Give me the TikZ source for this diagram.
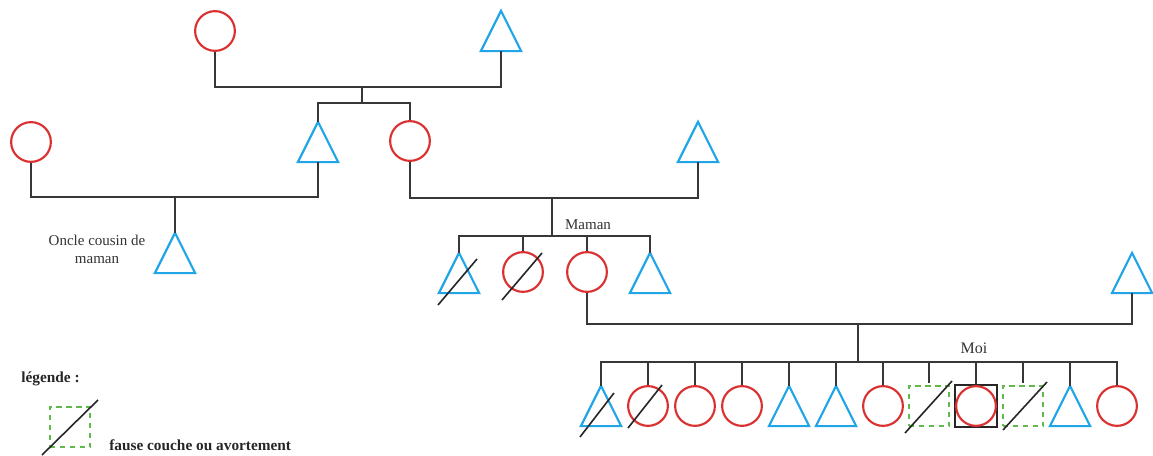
\documentclass[tikz,border=0pt]{standalone}
\usepackage{fontspec}
\setmainfont{Liberation Serif}
\definecolor{fred}{RGB}{218,48,48}
\definecolor{mblue}{RGB}{32,166,230}
\definecolor{dgreen}{RGB}{95,185,75}
\definecolor{lgray}{RGB}{55,55,55}
\begin{document}
\begin{tikzpicture}[x=0.75pt,y=-0.75pt,
  link/.style={draw=lgray, line width=1.3pt},
  slash/.style={draw=black!85, line width=1.2pt},
  fem/.style={circle, draw=fred, line width=1.6pt, minimum size=29.8pt, inner sep=0pt},
  masc/.style={rectangle, minimum width=29.8pt, minimum height=29.8pt, inner sep=0pt,
    append after command={\pgfextra{\draw[draw=mblue, line width=1.6pt, line join=miter]
      (\tikzlastnode.north) -- (\tikzlastnode.south east) -- (\tikzlastnode.south west) -- cycle;}}},
  lost/.style={rectangle, draw=dgreen, dash pattern=on 4pt off 3.5pt, line width=1.5pt,
    minimum size=30.5pt, inner sep=0pt},
  selfbox/.style={rectangle, draw=black!85, line width=1.3pt, minimum size=31.5pt, inner sep=0pt},
  lbl/.style={font=\fontsize{11.25pt}{13.5pt}\selectfont, text=black!80, inner sep=0pt},
  leg/.style={font=\bfseries\fontsize{11.5pt}{13.5pt}\selectfont, text=black!85, inner sep=0pt}
]
\useasboundingbox[fill=white] (0,0) rectangle (1153,456);

% generation 1
\node[fem]  (g1w) at (215,31) {};
\node[masc] (g1h) at (501,31) {};
\coordinate (m1) at (362,87);
\coordinate (c1) at (362,103);

% generation 2
\node[fem]  (lw)  at (31,142) {};
\node[masc] (g2h) at (318,142) {};
\node[fem]  (g2w) at (410,141) {};
\node[masc] (rh)  at (698,142) {};
\coordinate (m2) at (175,197);
\coordinate (m3) at (552,198);
\coordinate (c3) at (552,236);

\node[masc] (oncle) at (175,253) {};
\node[lbl, align=center] (oncletxt) at (97,249) {Oncle cousin de\\maman};

% generation 3
\node[masc] (k1) at (459,273) {};
\node[fem]  (k2) at (523,272) {};
\node[fem]  (k3) at (587,272) {};
\node[masc] (k4) at (650,273) {};
\node[lbl] (maman) at (588,225) {Maman};
\node[masc] (dad) at (1132,273) {};
\coordinate (m4) at (858,324);
\coordinate (c4) at (858,362);

% generation 4
\node[masc] (d1)  at (601,406) {};
\node[fem]  (d2)  at (648,406) {};
\node[fem]  (d3)  at (695,406) {};
\node[fem]  (d4)  at (742,406) {};
\node[masc] (d5)  at (789,406) {};
\node[masc] (d6)  at (836,406) {};
\node[fem]  (d7)  at (883,406) {};
\node[lost] (d8)  at (929,406) {};
\node[selfbox] (d9box) at (976,406) {};
\node[fem]  (d9)  at (976,406) {};
\node[lost] (d10) at (1023,406) {};
\node[masc] (d11) at (1070,406) {};
\node[fem]  (d12) at (1117,406) {};
\node[lbl, font=\fontsize{12pt}{14pt}\selectfont] (moi) at (974,348) {Moi};

% connectors
\draw[link] (g1w.south) |- (m1) -| (g1h.south);
\draw[link] (m1) -- (c1);
\draw[link] (g2h.north) |- (c1) -| (g2w.north);

\draw[link] (lw.south) |- (m2) -| (g2h.south);
\draw[link] (m2) -- (oncle.north);

\draw[link] (g2w.south) |- (m3) -| (rh.south);
\draw[link] (m3) -- (c3);
\draw[link] (k1.north) |- (c3) -| (k4.north);
\draw[link] (k2.north) -- (k2.north |- c3);
\draw[link] (k3.north) -- (k3.north |- c3);

\draw[link] (k3.south) |- (m4) -| (dad.south);
\draw[link] (m4) -- (c4);
\draw[link] (d1.north) |- (c4) -| (d12.north);
\foreach \n in {d2,d3,d4,d5,d6,d7,d9box,d11}
  \draw[link] (\n.north) -- (\n.north |- c4);
\foreach \n in {d8,d10}
  \draw[link] ([yshift=1.5pt]\n.north) -- (\n.north |- c4);

% slashes (deceased / lost)
\draw[slash] ([shift={(-21,32)}]k1.center) -- ([shift={(18,-14)}]k1.center);
\draw[slash] ([shift={(-21,28)}]k2.center) -- ([shift={(19,-19)}]k2.center);
\draw[slash] ([shift={(-21,31)}]d1.center) -- ([shift={(13,-13)}]d1.center);
\draw[slash] ([shift={(-20,22)}]d2.center) -- ([shift={(14,-21)}]d2.center);
\draw[slash] ([shift={(-24,27)}]d8.center) -- ([shift={(23,-25)}]d8.center);
\draw[slash] ([shift={(-20,24)}]d10.center) -- ([shift={(24,-24)}]d10.center);

% legend
\node[leg, anchor=west] (legtitle) at (21,379) {légende :};
\node[lost] (legbox) at (70,427) {};
\draw[slash] ([shift={(-28,28)}]legbox.center) -- ([shift={(28,-27)}]legbox.center);
\node[leg, anchor=west] (legtxt) at (109,445) {fause couche ou avortement};
\end{tikzpicture}
\end{document}
